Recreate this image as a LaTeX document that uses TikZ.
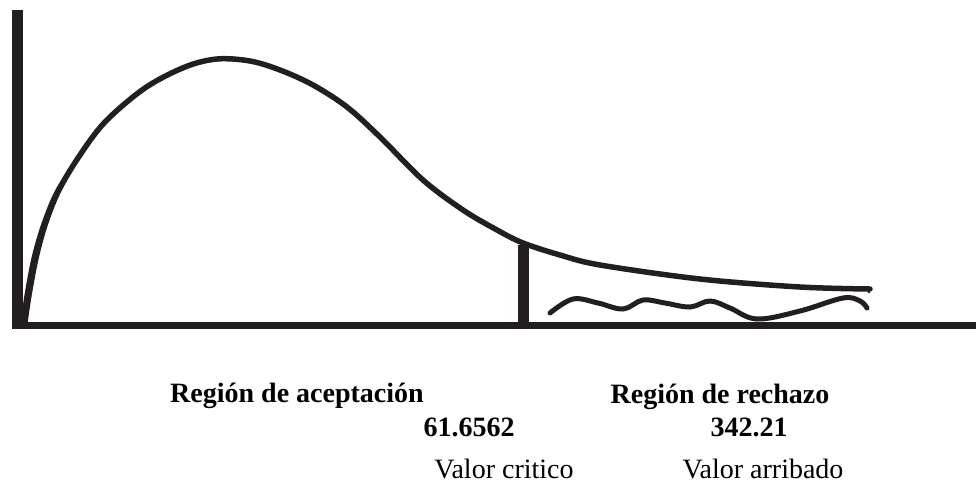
\documentclass[tikz,border=0pt]{standalone}
\usepackage{fontspec}
\setmainfont{Liberation Serif}
\definecolor{ink}{RGB}{35,31,32}
\begin{document}
\begin{tikzpicture}[x=1pt,y=-1pt,
  axisline/.style={draw=ink,line width=#1},
  curveline/.style={draw=ink,line width=5.5pt,line cap=round,line join=round},
  lbl/.style={anchor=base,inner sep=0pt,text=black,font=\fontsize{28}{32}\selectfont},
  blbl/.style={lbl,font=\fontsize{28}{32}\selectfont\bfseries}]
\useasboundingbox (0,0) rectangle (976,493);
% axes
\draw[axisline=11pt] (17.5,10) -- (17.5,329);
\draw[axisline=7pt] (12,325.5) -- (976,325.5);
% density curve
\draw[curveline] plot[smooth,tension=0.55] coordinates {
  (25,322) (29,295) (36,258) (45,225) (58,192) (78,158) (105,122) (145,88)
  (185,67) (217,59) (250,61) (280,70) (313,85) (347,107) (380,137)
  (423,180) (463,210) (497,230) (523,243) (560,255) (600,265)
  (700,279) (800,287) (870,289)};
% extra thickness at the steep left part
\draw[draw=ink,line width=4pt,line cap=round] plot[smooth,tension=0.55] coordinates {
  (23,320) (26.5,295) (33.5,258) (43,225) (56.5,192) (77.5,158.5)};
% small hook at the end of the curve
\draw[draw=ink,line width=2pt,line cap=round] (868,289) -- (869,292.5);
% critical value line
\draw[axisline=11pt] (523.5,245) -- (523.5,324);
% wavy line in rejection region
\draw[curveline,line width=5pt] plot[smooth,tension=0.6] coordinates {
  (550,313) (573,299) (598,303) (623,309) (643,300) (665,303) (690,307)
  (710,301) (730,308) (757,319) (800,311) (843,298) (860,301) (867,308)};
% labels
\node[blbl] (acc) at (297,402) {Región de aceptación};
\node[blbl] (rej) at (720,403) {Región de rechazo};
\node[blbl] (crit) at (469,436) {61.6562};
\node[blbl] (obs) at (749,436) {342.21};
\node[lbl] (critl) at (504,478) {Valor critico};
\node[lbl] (obsl) at (763,478) {Valor arribado};
\end{tikzpicture}
\end{document}
